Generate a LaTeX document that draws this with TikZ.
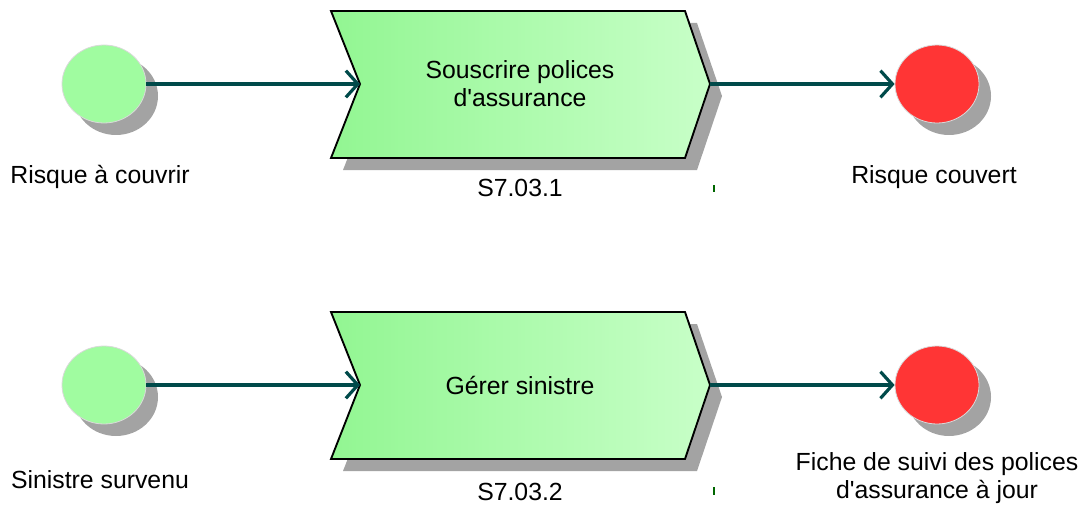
\documentclass[tikz,border=0pt]{standalone}
\usepackage{fontspec}
\setmainfont{Liberation Sans}
\usetikzlibrary{shapes.geometric,arrows.meta}
\newcommand\plainquote{\XeTeXglyph\XeTeXcharglyph"27\relax}
\definecolor{evgreen}{HTML}{A0FCA0}
\definecolor{evred}{HTML}{FF3535}
\definecolor{flowcol}{HTML}{004A4A}
\definecolor{shadecol}{HTML}{A3A3A3}
\definecolor{fnleft}{HTML}{92F692}
\definecolor{fnright}{HTML}{C8FFC8}
\tikzset{
  event/.style={ellipse, minimum width=63pt, minimum height=58.5pt, inner sep=0pt, draw=gray!30, line width=0.6pt},
  fnbox/.style={left color=fnleft, right color=fnright, draw=black, line width=1.4pt, line join=miter},
  flow/.style={draw=flowcol, line width=2.6pt, -{Straight Barb[length=9pt,width=20pt,line width=2.4pt]}},
  lbl/.style={font=\fontsize{18.6}{21}\selectfont, align=center, inner sep=0pt},
  tick/.style={draw=green!40!black, line width=0.8pt}
}
\begin{document}
\begin{tikzpicture}[x=0.75pt,y=-0.75pt]
\useasboundingbox (0,0) rectangle (1087,506);
% shadows
\fill[shadecol] (116,96) ellipse [x radius=42, y radius=39];
\fill[shadecol] (949,96) ellipse [x radius=42, y radius=39];
\fill[shadecol] (116,397) ellipse [x radius=42, y radius=39];
\fill[shadecol] (949,397) ellipse [x radius=42, y radius=39];
\fill[shadecol] (343,23) -- (697,23) -- (722,96) -- (697,170) -- (343,170) -- (372,96) -- cycle;
\fill[shadecol] (343,324) -- (697,324) -- (722,397) -- (697,471) -- (343,471) -- (372,397) -- cycle;
% functions
\shade[fnbox] (331,11) -- (685,11) -- (710,84) -- (685,158) -- (331,158) -- (360,84) -- cycle;
\shade[fnbox] (331,312) -- (685,312) -- (710,385) -- (685,459) -- (331,459) -- (360,385) -- cycle;
\coordinate (in1) at (360,84);
\coordinate (out1) at (710,84);
\coordinate (in2) at (360,385);
\coordinate (out2) at (710,385);
\node[lbl] (f1) at (520,84) {Souscrire polices\\d\plainquote assurance};
\node[lbl] (f2) at (520,385) {Gérer sinistre};
\node[lbl] (id1) at (520,188) {S7.03.1};
\node[lbl] (id2) at (520,492) {S7.03.2};
% events
\node[event, fill=evgreen] (e1) at (104,84) {};
\node[event, fill=evred] (e2) at (937,84) {};
\node[event, fill=evgreen] (e3) at (104,385) {};
\node[event, fill=evred] (e4) at (937,385) {};
\node[lbl] (t1) at (100,177) {Risque à couvrir};
\node[lbl] (t2) at (934,177) {Risque couvert};
\node[lbl] (t3) at (100,480) {Sinistre survenu};
\node[lbl] (t4) at (937,478) {Fiche de suivi des polices\\d\plainquote assurance à jour};
% connectors
\draw[flow] (e1) -- (in1);
\draw[flow] (out1) -- (e2);
\draw[flow] (e3) -- (in2);
\draw[flow] (out2) -- (e4);
\draw[tick] (714,185) -- (714,192);
\draw[tick] (714,487) -- (714,495);
\end{tikzpicture}
\end{document}
